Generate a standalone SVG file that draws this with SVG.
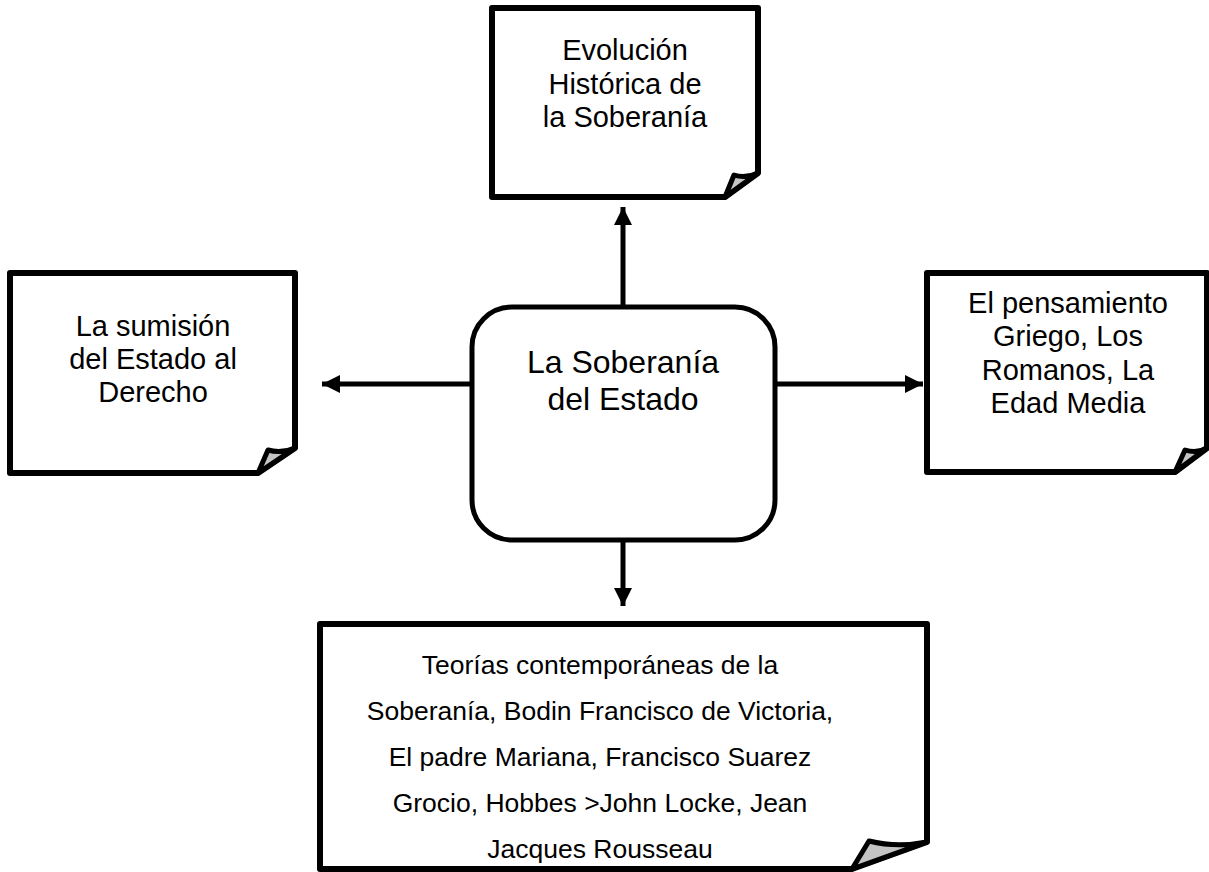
<svg xmlns="http://www.w3.org/2000/svg" width="1209" height="872" viewBox="0 0 1209 872">
<style>
.box{fill:#fff;stroke:#000;stroke-width:6;stroke-linejoin:round}
.fold{fill:#c4c4c4;stroke:#000;stroke-width:5;stroke-linejoin:round}
.center{fill:#fff;stroke:#000;stroke-width:5}
.t{font-family:"Liberation Sans",Arial,sans-serif;fill:#000;text-anchor:middle}
.t29{font-size:29px}
.t32{font-size:32px}
.t27{font-size:26.5px}
.conn{stroke:#000;stroke-width:5;fill:none}
</style>
<defs>
<marker id="ah" viewBox="0 0 10 10" refX="10" refY="5" markerWidth="3.6" markerHeight="3.6" markerUnits="strokeWidth" orient="auto">
<path d="M0,0 L10,5 L0,10 Z" fill="#000"/>
</marker>
</defs>
<g id="connectors">
<line class="conn" x1="623" y1="305" x2="623" y2="207" marker-end="url(#ah)"/>
<line class="conn" x1="472" y1="384" x2="322" y2="384" marker-end="url(#ah)"/>
<line class="conn" x1="775" y1="384" x2="923" y2="384" marker-end="url(#ah)"/>
<line class="conn" x1="623" y1="542" x2="623" y2="606" marker-end="url(#ah)"/>
</g>
<g id="node-center">
<rect class="center" x="472" y="307" width="303" height="233" rx="40" ry="40"/>
<text class="t t32" x="623" y="373">La Soberanía</text>
<text class="t t32" x="623" y="410">del Estado</text>
</g>
<g id="node-top">
<path class="box" d="M492,8 H758 V173 L725,197 H492 Z"/>
<path class="fold" d="M725,197 L734,175 Q745,179 758,173 Z"/>
<text class="t t29" x="625" y="60">Evolución</text>
<text class="t t29" x="625" y="94">Histórica de</text>
<text class="t t29" x="625" y="127">la Soberanía</text>
</g>
<g id="node-left">
<path class="box" d="M10,273 H295 V448 L258,473 H10 Z"/>
<path class="fold" d="M258,473 L268,450 Q281,454 295,448 Z"/>
<text class="t t29" x="153" y="336">La sumisión</text>
<text class="t t29" x="153" y="369">del Estado al</text>
<text class="t t29" x="153" y="402">Derecho</text>
</g>
<g id="node-right">
<path class="box" d="M927,273 H1207 V448 L1175,472 H927 Z"/>
<path class="fold" d="M1175,472 L1185,450 Q1197,454 1207,448 Z"/>
<text class="t t29" x="1068" y="313">El pensamiento</text>
<text class="t t29" x="1068" y="346">Griego, Los</text>
<text class="t t29" x="1068" y="380">Romanos, La</text>
<text class="t t29" x="1068" y="413">Edad Media</text>
</g>
<g id="node-bottom">
<path class="box" d="M320,624 H927 V842 L852,869 H320 Z"/>
<path class="fold" d="M852,869 L869,841 Q897,848 927,842 Z"/>
<text class="t t27" x="600" y="674">Teorías contemporáneas de la</text>
<text class="t t27" x="600" y="720">Soberanía, Bodin Francisco de Victoria,</text>
<text class="t t27" x="600" y="766">El padre Mariana, Francisco Suarez</text>
<text class="t t27" x="600" y="812">Grocio, Hobbes &gt;John Locke, Jean</text>
<text class="t t27" x="600" y="858">Jacques Rousseau</text>
</g>
</svg>
